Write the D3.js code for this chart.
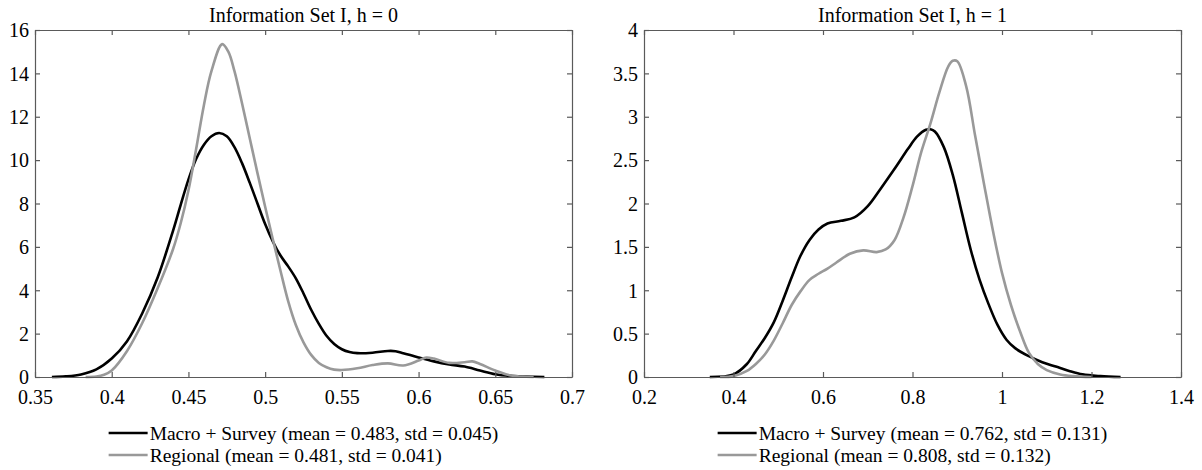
<!DOCTYPE html>
<html>
<head>
<meta charset="utf-8">
<script src="https://cdn.jsdelivr.net/npm/d3@7/dist/d3.min.js"></script>
<style>
  html, body { margin: 0; padding: 0; background: #ffffff; }
  svg text { font-family: "Liberation Serif", "Times New Roman", serif !important; fill: #000; }
</style>
</head>
<body>
<svg id="chart" width="1202" height="470"></svg>
<script>
// ---------- Data ----------
const titles = ["Information Set I, h = 0", "Information Set I, h = 1"];
const seriesNames = ["Macro + Survey", "Regional"];
const legendStats = [
  ["(mean = 0.483, std = 0.045)", "(mean = 0.481, std = 0.041)"],
  ["(mean = 0.762, std = 0.131)", "(mean = 0.808, std = 0.132)"]
];

// Panel 1 (h = 0)
const h0MacroX = [0.361, 0.37, 0.38, 0.39, 0.40, 0.41, 0.42, 0.43, 0.44, 0.445, 0.45, 0.455, 0.46, 0.465, 0.47, 0.475, 0.48, 0.485, 0.49, 0.495, 0.50, 0.505, 0.51, 0.515, 0.52, 0.525, 0.53, 0.535, 0.54, 0.545, 0.55, 0.555, 0.56, 0.57, 0.58, 0.585, 0.59, 0.60, 0.61, 0.62, 0.63, 0.64, 0.65, 0.66, 0.67, 0.682];
const h0MacroY = [0, 0.03, 0.12, 0.35, 0.85, 1.65, 2.95, 4.6, 6.75, 7.95, 9.1, 10.05, 10.7, 11.1, 11.25, 11.1, 10.6, 9.85, 8.95, 8.0, 7.05, 6.25, 5.6, 5.1, 4.55, 3.85, 3.1, 2.45, 1.9, 1.52, 1.28, 1.15, 1.1, 1.12, 1.2, 1.19, 1.1, 0.9, 0.72, 0.58, 0.48, 0.3, 0.13, 0.05, 0.02, 0];
const h0RegX = [0.383, 0.39, 0.395, 0.40, 0.41, 0.42, 0.43, 0.44, 0.445, 0.45, 0.455, 0.46, 0.465, 0.472, 0.476, 0.48, 0.485, 0.49, 0.495, 0.50, 0.505, 0.51, 0.515, 0.52, 0.525, 0.53, 0.535, 0.54, 0.545, 0.55, 0.56, 0.57, 0.58, 0.59, 0.60, 0.605, 0.61, 0.62, 0.63, 0.635, 0.64, 0.65, 0.66, 0.675];
const h0RegY = [0, 0.02, 0.1, 0.3, 1.2, 2.5, 4.1, 5.9, 7.1, 8.6, 10.5, 12.5, 14.1, 15.35, 15.0, 14.1, 12.6, 11.0, 9.4, 7.85, 6.35, 4.9, 3.5, 2.4, 1.6, 1.02, 0.65, 0.45, 0.34, 0.32, 0.4, 0.55, 0.63, 0.53, 0.76, 0.9, 0.85, 0.65, 0.68, 0.72, 0.6, 0.3, 0.07, 0];

// Panel 2 (h = 1)
const h1MacroX = [0.347, 0.40, 0.43, 0.45, 0.47, 0.49, 0.51, 0.53, 0.55, 0.57, 0.59, 0.61, 0.64, 0.67, 0.70, 0.73, 0.76, 0.79, 0.81, 0.83, 0.84, 0.85, 0.87, 0.89, 0.91, 0.93, 0.95, 0.97, 0.99, 1.01, 1.03, 1.06, 1.09, 1.12, 1.15, 1.18, 1.22, 1.265];
const h1MacroY = [0, 0.03, 0.15, 0.3, 0.45, 0.63, 0.88, 1.15, 1.4, 1.58, 1.7, 1.77, 1.8, 1.84, 1.97, 2.18, 2.4, 2.63, 2.77, 2.85, 2.855, 2.83, 2.65, 2.33, 1.9, 1.47, 1.12, 0.84, 0.6, 0.43, 0.33, 0.24, 0.17, 0.12, 0.07, 0.03, 0.01, 0];
const h1RegX = [0.37, 0.40, 0.43, 0.45, 0.47, 0.49, 0.51, 0.53, 0.55, 0.57, 0.59, 0.61, 0.63, 0.66, 0.69, 0.72, 0.74, 0.76, 0.78, 0.80, 0.82, 0.84, 0.86, 0.88, 0.89, 0.90, 0.92, 0.94, 0.96, 0.98, 1.00, 1.02, 1.04, 1.06, 1.08, 1.10, 1.13, 1.16, 1.20];
const h1RegY = [0, 0.01, 0.07, 0.15, 0.26, 0.42, 0.62, 0.83, 0.99, 1.12, 1.19, 1.25, 1.32, 1.42, 1.46, 1.44, 1.47, 1.58, 1.84, 2.2, 2.6, 2.92, 3.28, 3.58, 3.645, 3.64, 3.35, 2.78, 2.22, 1.68, 1.2, 0.83, 0.53, 0.28, 0.15, 0.08, 0.03, 0.01, 0];

// Axis ticks
const h0XTicks = [0.35, 0.4, 0.45, 0.5, 0.55, 0.6, 0.65, 0.7];
const h0YTicks = [0, 2, 4, 6, 8, 10, 12, 14, 16];
const h1XTicks = [0.2, 0.4, 0.6, 0.8, 1, 1.2, 1.4];
const h1YTicks = [0, 0.5, 1, 1.5, 2, 2.5, 3, 3.5, 4];

const panels = [
  { title: titles[0], xDomain: [0.35, 0.7], yDomain: [0, 16], xTicks: h0XTicks, yTicks: h0YTicks,
    series: [ {x: h0MacroX, y: h0MacroY}, {x: h0RegX, y: h0RegY} ], stats: legendStats[0],
    left: 35, right: 572 },
  { title: titles[1], xDomain: [0.2, 1.4], yDomain: [0, 4], xTicks: h1XTicks, yTicks: h1YTicks,
    series: [ {x: h1MacroX, y: h1MacroY}, {x: h1RegX, y: h1RegY} ], stats: legendStats[1],
    left: 644, right: 1181 }
];

// ---------- Styles ----------
const colors = ["#000000", "#999999"];
const plotTop = 30, plotBottom = 377;
const axisColor = "#5a5a5a";
const tickLen = 5;
const fontSize = 20;
const serif = "'Liberation Serif', 'Times New Roman', serif";

const svg = d3.select("#chart");

panels.forEach(p => {
  const x = d3.scaleLinear().domain(p.xDomain).range([p.left, p.right]);
  const y = d3.scaleLinear().domain(p.yDomain).range([plotBottom, plotTop]);
  const g = svg.append("g");

  // Curves
  const line = d3.line().x(d => x(d[0])).y(d => Math.min(plotBottom, y(d[1])))
    .curve(d3.curveCatmullRom.alpha(0.5));
  p.series.forEach((s, i) => {
    const pts = s.x.map((v, k) => [v, s.y[k]]);
    g.append("path").datum(pts).attr("d", line)
      .attr("fill", "none").attr("stroke", colors[i])
      .attr("stroke-width", 2.6).attr("stroke-linejoin", "round").attr("stroke-linecap", "butt");
  });

  const fmt = d => String(+d.toFixed(2));

  // Axes: bottom/left with labels, top/right mirrored, ticks inward
  const axB = d3.axisBottom(x).tickValues(p.xTicks).tickFormat(fmt).tickSizeInner(-tickLen).tickSizeOuter(0).tickPadding(13);
  const axT = d3.axisTop(x).tickValues(p.xTicks).tickFormat("").tickSizeInner(-tickLen).tickSizeOuter(0);
  const axL = d3.axisLeft(y).tickValues(p.yTicks).tickFormat(fmt).tickSizeInner(-tickLen).tickSizeOuter(0).tickPadding(6);
  const axR = d3.axisRight(y).tickValues(p.yTicks).tickFormat("").tickSizeInner(-tickLen).tickSizeOuter(0);

  const gb = g.append("g").attr("transform", `translate(0,${plotBottom})`).call(axB);
  const gt = g.append("g").attr("transform", `translate(0,${plotTop})`).call(axT);
  const gl = g.append("g").attr("transform", `translate(${p.left},0)`).call(axL);
  const gr = g.append("g").attr("transform", `translate(${p.right},0)`).call(axR);
  [gb, gt, gl, gr].forEach(a => {
    a.attr("font-family", null).attr("font-size", null);
    a.select(".domain").attr("stroke", axisColor).attr("stroke-width", 1.2);
    a.selectAll(".tick line").attr("stroke", axisColor).attr("stroke-width", 1.2);
    a.selectAll("text").style("font-family", serif).style("font-size", fontSize + "px").attr("fill", "#000");
  });
  gl.selectAll(".tick text").attr("dy", "0.34em");

  // Title
  g.append("text").attr("x", (p.left + p.right) / 2).attr("y", 22)
    .attr("text-anchor", "middle").style("font-family", serif).style("font-size", fontSize + "px").text(p.title);

  // Legend (centered under the axes)
  const legG = g.append("g");
  const texts = seriesNames.map((n, i) => n + " " + p.stats[i]);
  const rowY = [433, 455];
  const lfs = (fontSize - 0.5) + "px";
  const tmp = legG.append("text").style("font-family", serif).style("font-size", lfs).text(texts[0]);
  const tw = d3.max(texts, t => { tmp.text(t); return tmp.node().getComputedTextLength(); });
  tmp.remove();
  const lineLen = 39, gap = 2;
  const lx0 = (p.left + p.right) / 2 - (lineLen + gap + tw) / 2;
  texts.forEach((t, i) => {
    legG.append("line").attr("x1", lx0).attr("x2", lx0 + lineLen)
      .attr("y1", rowY[i]).attr("y2", rowY[i])
      .attr("stroke", colors[i]).attr("stroke-width", 2.6);
    legG.append("text").attr("x", lx0 + lineLen + gap).attr("y", rowY[i])
      .attr("dy", "0.34em").style("font-family", serif).style("font-size", lfs).text(t);
  });
});
</script>
</body>
</html>
